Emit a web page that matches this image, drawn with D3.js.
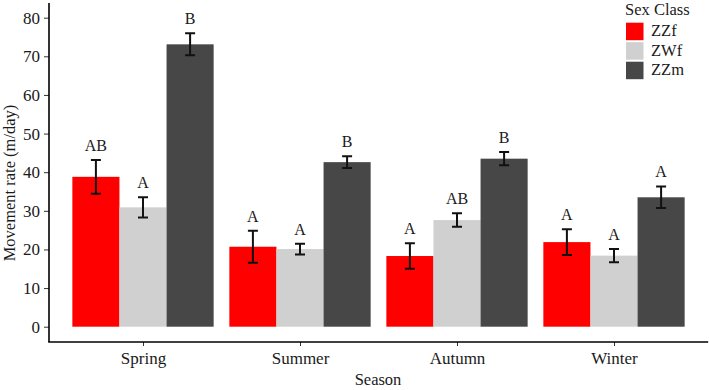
<!DOCTYPE html>
<html>
<head>
<meta charset="utf-8">
<script src="https://cdn.jsdelivr.net/npm/d3@7"></script>
<style>
body { margin: 0; background: #fff; }
svg text { font-family: "Liberation Serif", "Times New Roman", serif !important; fill: #1a1a1a; }
</style>
</head>
<body>
<svg id="chart"></svg>
<script>
var seasons = ["Spring", "Summer", "Autumn", "Winter"];
var sexClasses = ["ZZf", "ZWf", "ZZm"];
var colors = ["#ff0000", "#d0d0d0", "#474747"];

// mean movement rate per sex class, in season order
var meanZZf = [38.8, 20.7, 18.3, 21.9];
var meanZWf = [30.9, 20.1, 27.6, 18.4];
var meanZZm = [73.1, 42.6, 43.5, 33.5];
// half length of error bars
var seZZf = [4.35, 4.15, 3.3, 3.35];
var seZWf = [2.6, 1.4, 1.75, 1.7];
var seZZm = [2.85, 1.5, 1.7, 2.8];
// significance letters
var letZZf = ["AB", "A", "A", "A"];
var letZWf = ["A", "A", "AB", "A"];
var letZZm = ["B", "B", "B", "A"];

var yTicks = [0, 10, 20, 30, 40, 50, 60, 70, 80];

var width = 709, height = 390;
var svg = d3.select("#chart").attr("width", width).attr("height", height)
    .attr("font-family", "Liberation Serif");

var means = [meanZZf, meanZWf, meanZZm];
var ses = [seZZf, seZWf, seZZm];
var lets = [letZZf, letZWf, letZZm];

var data = [];
seasons.forEach(function(s, i){
    sexClasses.forEach(function(c, j){
        data.push({season: s, cls: c, mean: means[j][i], se: ses[j][i], letter: lets[j][i], color: colors[j]});
    });
});

var x = d3.scalePoint().domain(seasons).range([48.8, 708.2]).padding(0.6);
var half = x.step() * 0.9 / 2;
var xc = d3.scaleBand().domain(sexClasses).range([-half, half]);
var y = d3.scaleLinear().domain([-3.96, 83.8]).range([342, 3]);

// bars
svg.append("g").selectAll("rect")
    .data(data)
    .enter().append("rect")
    .attr("x", function(d){ return x(d.season) + xc(d.cls); })
    .attr("y", function(d){ return y(d.mean); })
    .attr("width", xc.bandwidth())
    .attr("height", function(d){ return y(0) - y(d.mean); })
    .attr("fill", function(d){ return d.color; });

// error bars
svg.append("g").attr("stroke", "#111").attr("stroke-width", 2).attr("fill", "none")
    .selectAll("path").data(data).enter().append("path")
    .attr("d", function(d){
        var cx = x(d.season) + xc(d.cls) + xc.bandwidth()/2;
        var t = y(d.mean + d.se), b = y(d.mean - d.se);
        return "M" + (cx-5) + "," + t + "H" + (cx+5) +
               "M" + cx + "," + t + "V" + b +
               "M" + (cx-5) + "," + b + "H" + (cx+5);
    });

// letters
svg.append("g").selectAll("text")
    .data(data)
    .enter().append("text")
    .attr("x", function(d){ return x(d.season) + xc(d.cls) + xc.bandwidth()/2; })
    .attr("y", function(d){ return y(d.mean + d.se) - 9; })
    .attr("text-anchor", "middle")
    .style("font-size", "16px")
    .text(function(d){ return d.letter; });

// y axis
var yAxis = d3.axisLeft(y).tickValues(yTicks).tickSize(5).tickPadding(4);
var gy = svg.append("g").attr("transform", "translate(49,0)").call(yAxis)
    .attr("font-family", "Liberation Serif");
gy.select(".domain").remove();
gy.append("line").attr("x1", 0).attr("x2", 0).attr("y1", 3).attr("y2", 342)
    .attr("stroke", "#000").attr("stroke-width", 1.6);
gy.selectAll(".tick line").attr("stroke", "#333");
gy.selectAll(".tick text").style("font-size", "17px").attr("fill", "#1a1a1a");

// x axis
var xAxis = d3.axisBottom(x).tickSize(4).tickPadding(6);
var gx = svg.append("g").attr("transform", "translate(0,342)").call(xAxis)
    .attr("font-family", "Liberation Serif");
gx.select(".domain").remove();
gx.append("line").attr("x1", 48.2).attr("x2", 708.2).attr("y1", 0).attr("y2", 0)
    .attr("stroke", "#000").attr("stroke-width", 1.6);
gx.selectAll(".tick line").attr("stroke", "#333");
gx.selectAll(".tick text").style("font-size", "17px").attr("fill", "#1a1a1a");

// titles
svg.append("text")
    .attr("x", 378).attr("y", 385)
    .attr("text-anchor", "middle")
    .style("font-size", "16.5px")
    .text("Season");
svg.append("text")
    .attr("transform", "translate(15,183) rotate(-90)")
    .attr("text-anchor", "middle")
    .style("font-size", "16.5px")
    .text("Movement rate (m/day)");

// legend
var lg = svg.append("g").attr("transform", "translate(625,0)");
lg.append("text").attr("x", 0).attr("y", 15).style("font-size", "16.5px").text("Sex Class");
var item = lg.selectAll(".item").data(sexClasses).enter().append("g")
    .attr("transform", function(d, i){ return "translate(1," + (22.7 + i*19.5) + ")"; });
item.append("rect").attr("width", 17.5).attr("height", 17.5)
    .attr("fill", function(d, i){ return colors[i]; });
item.append("text").attr("x", 25).attr("y", 13.5).style("font-size", "16.5px")
    .text(function(d){ return d; });
</script>
</body>
</html>
